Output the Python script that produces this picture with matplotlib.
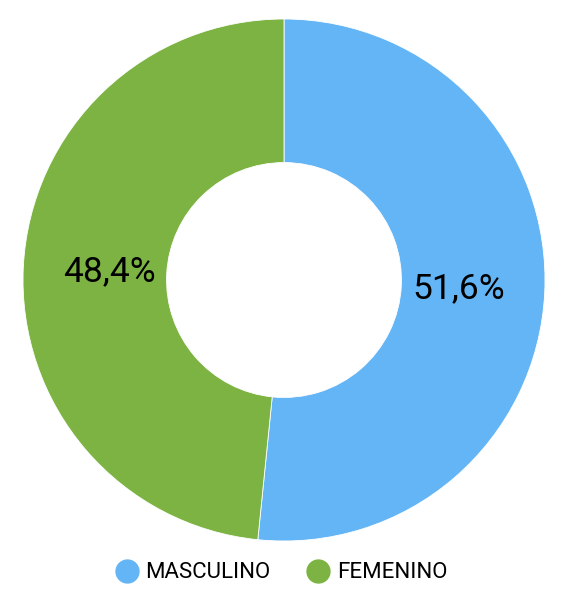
import matplotlib.pyplot as plt
from matplotlib.lines import Line2D

plt.rcParams["font.family"] = ["Roboto", "DejaVu Sans"]

categories = ["MASCULINO", "FEMENINO"]
shares = [51.6, 48.4]
colors = ["#64B5F6", "#7CB342"]

W, H = 566, 594
fig = plt.figure(figsize=(W / 100, H / 100), dpi=100)

# donut centred at (284, 280) px, outer radius ~261 px
cx, cy, r = 284, 280, 261
ax = fig.add_axes([(cx - r) / W, (H - cy - r) / H, 2 * r / W, 2 * r / H])

wedges, _, autotexts = ax.pie(
    shares,
    colors=colors,
    startangle=90,
    counterclock=False,
    radius=1.0,
    autopct=lambda p: f"{p:.1f}%".replace(".", ","),
    pctdistance=0.67,
    wedgeprops=dict(width=0.55, edgecolor="white", linewidth=0.6),
    textprops=dict(fontsize=25.5, color="black"),
)
ax.set_aspect("equal")
ax.set_xlim(-1, 1)
ax.set_ylim(-1, 1)
ax.axis("off")

handles = [Line2D([], [], marker="o", linestyle="none", markersize=16.5,
                  markerfacecolor=c, markeredgecolor=c) for c in colors]
fig.legend(handles, categories, loc="center", bbox_to_anchor=(0.4955, 1 - 573 / H),
           ncol=2, frameon=False, fontsize=16, handletextpad=0.25,
           columnspacing=1.55, handlelength=1.2)

fig.savefig("out.png", dpi=100)
